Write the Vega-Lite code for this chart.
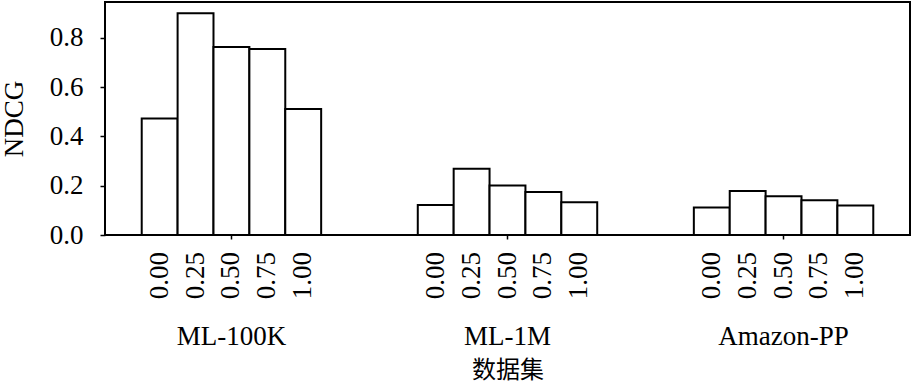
{
  "$schema": "https://vega.github.io/schema/vega-lite/v6.json",
  "width": 805,
  "height": 233,
  "autosize": {"type": "none"},
  "padding": {"left": 105, "top": 2, "right": 3, "bottom": 153},
  "background": "white",
  "config": {
    "font": "Liberation Serif",
    "view": {"stroke": "black", "strokeWidth": 2},
    "axis": {"domain": false, "grid": false, "tickColor": "black", "labelColor": "black", "titleColor": "black", "titleFontWeight": "normal"}
  },
  "data": {
    "values": [
      {"dataset": "ML-100K", "alpha": "0.00", "ndcg": 0.473},
      {"dataset": "ML-100K", "alpha": "0.25", "ndcg": 0.899},
      {"dataset": "ML-100K", "alpha": "0.50", "ndcg": 0.762},
      {"dataset": "ML-100K", "alpha": "0.75", "ndcg": 0.754},
      {"dataset": "ML-100K", "alpha": "1.00", "ndcg": 0.511},
      {"dataset": "ML-1M", "alpha": "0.00", "ndcg": 0.122},
      {"dataset": "ML-1M", "alpha": "0.25", "ndcg": 0.269},
      {"dataset": "ML-1M", "alpha": "0.50", "ndcg": 0.201},
      {"dataset": "ML-1M", "alpha": "0.75", "ndcg": 0.174},
      {"dataset": "ML-1M", "alpha": "1.00", "ndcg": 0.133},
      {"dataset": "Amazon-PP", "alpha": "0.00", "ndcg": 0.112},
      {"dataset": "Amazon-PP", "alpha": "0.25", "ndcg": 0.178},
      {"dataset": "Amazon-PP", "alpha": "0.50", "ndcg": 0.157},
      {"dataset": "Amazon-PP", "alpha": "0.75", "ndcg": 0.141},
      {"dataset": "Amazon-PP", "alpha": "1.00", "ndcg": 0.120}
    ]
  },
  "encoding": {
    "x": {
      "field": "dataset",
      "type": "nominal",
      "sort": ["ML-100K", "ML-1M", "Amazon-PP"],
      "scale": {"paddingInner": 0.35, "paddingOuter": 0.133},
      "axis": {
        "title": "数据集",
        "titleFont": "Noto Sans CJK SC",
        "titleFontSize": 24,
        "titlePadding": 9,
        "labelAngle": 0,
        "labelFontSize": 27,
        "labelPadding": 84,
        "tickSize": 4,
        "tickWidth": 1.5
      }
    },
    "xOffset": {
      "field": "alpha",
      "type": "nominal",
      "sort": ["0.00", "0.25", "0.50", "0.75", "1.00"],
      "scale": {"paddingInner": 0, "paddingOuter": 0}
    }
  },
  "layer": [
    {
      "mark": {"type": "bar", "fill": "white", "stroke": "black", "strokeWidth": 2},
      "encoding": {
        "y": {
          "field": "ndcg",
          "type": "quantitative",
          "scale": {"domain": [0, 0.945], "nice": false},
          "axis": {
            "title": "NDCG",
            "titleFontSize": 27,
            "titlePadding": 21,
            "values": [0, 0.2, 0.4, 0.6, 0.8],
            "format": ".1f",
            "labelFontSize": 27,
            "labelPadding": 17,
            "tickSize": 5,
            "tickWidth": 1.5
          }
        }
      }
    },
    {
      "mark": {"type": "text", "angle": 270, "align": "right", "baseline": "middle", "dx": -17, "fontSize": 27, "color": "black"},
      "encoding": {
        "y": {"datum": 0, "type": "quantitative"},
        "text": {"field": "alpha"}
      }
    }
  ]
}
